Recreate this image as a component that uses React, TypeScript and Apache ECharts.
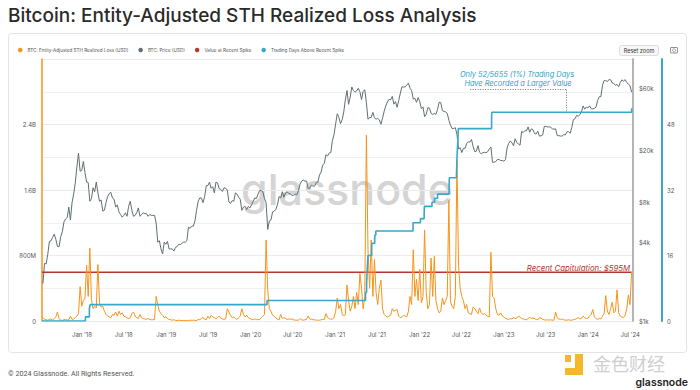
import React, { useEffect, useRef } from "react";
import * as echarts from "echarts";

// ---------- DATA ----------
const WEEK_START = "2017-07-16"; // weekly samples
const X_MIN = "2017-07-12";
const X_MAX = "2024-07-13";

// BTC price (USD), weekly
const priceUsd = [
  1930, 2750, 2730, 3230, 4060, 4090, 4350, 4600, 4200, 3700, 3700, 4400, 4800, 5700, 6000, 6150, 7400, 5900, 8000, 9300, 11300, 15000, 19100, 13900, 14100,
  16500, 13600, 11500, 11400, 8200, 8600, 10400, 9700, 11500, 9500, 8200, 8400, 6900, 7000, 8000, 8900, 9400, 9600, 8700, 8500, 7400, 7700, 6800, 6500, 6200, 6400, 6700, 6300, 7500, 8200, 7000, 6300, 6400, 6700, 7300, 6300, 6500, 6700, 6600, 6600, 6300, 6500, 6400, 6400, 6400, 5600, 4000, 4100, 3550, 3250, 4000, 3850,
  4050, 3550, 3550, 3550, 3420, 3650, 3700, 3850, 3830, 3920, 4000, 3990, 4100, 5200, 5100, 5300, 5300, 5800, 7000, 8200, 8700, 8700, 8000, 8900, 10800, 10800, 11500, 10300, 10600, 9500, 11500, 11300, 10200, 10100, 9750, 10400, 10300, 10000, 8100, 7900, 8300, 8200, 9500, 9300, 8800, 8500, 7000, 7400, 7500, 7100, 7500, 7300,
  7700, 8200, 8700, 8600, 9300, 9900, 9900, 9700, 8600, 8000, 5000, 5800, 5900, 6800, 6900, 7100, 7700, 8900, 8700, 9700, 8800, 9500, 9700, 9400, 9300, 9100, 9100, 9300, 9200, 9900, 11100, 11700, 11900, 11700, 11700, 10300, 10300, 10900, 10700, 10700, 11400, 11500, 13000, 13700, 15500, 16000, 18600, 18200, 19100, 19300, 23900, 26500,
  32000, 38200, 35800, 32100, 34300, 39300, 48700, 57500, 45100, 51200, 61200, 57400, 55800, 57100, 59800, 56200, 49000, 56600, 58300, 46400, 34700, 35700, 35800, 39100, 35600, 34700, 35300, 34300, 31800, 35400, 39900, 43800, 47000, 49300, 48800, 51800, 45200, 47300, 42800, 48200, 54900, 61500, 61000, 61300, 63300, 65500, 59700, 57300, 49400, 50100, 46700, 50800,
  47300, 41800, 43100, 36300, 37900, 42400, 42200, 38400, 37700, 38400, 37800, 41200, 46800, 46400, 40400, 39700, 39500, 38500, 34100, 31300, 29400, 29500, 29900, 26600, 20600, 21000, 19300, 20800, 20800, 22600, 23300, 23200, 24300, 21500, 19600, 19800, 21800, 19400, 18900, 19300, 19400, 19200, 19600, 20600, 21300, 16300, 16300, 16500, 17100, 17100, 16800, 16800,
  16600, 17100, 20900, 22700, 23700, 22900, 21800, 24600, 23100, 22400, 22000, 28000, 27500, 28400, 28300, 30300, 27600, 29300, 28900, 26900, 26800, 28100, 25800, 25900, 26300, 30500, 30600, 30300, 30300, 30100, 29300, 29100, 29300, 26000, 26000, 25800, 25800, 26500, 26300, 27800, 27900, 27100, 30000, 34500, 35000, 37100, 36600, 37500, 39400, 43800, 41400, 43000, 42300,
  43900, 41700, 41600, 42000, 43000, 48300, 51600, 51700, 63100, 68400, 68400, 67200, 69700, 69300, 65700, 64900, 63100, 63900, 61500, 66300, 69300, 67700, 69600, 66200, 64300, 62700, 55800,
];

// Entity-adjusted STH realized loss (USD millions), weekly
const lossUsdM = [
  40, 20, 15, 10, 20, 25, 10, 30, 50, 110, 30, 10, 8, 15, 20, 10, 15, 60, 20, 25, 40, 60, 90, 420, 180,
  250, 280, 680, 300, 890, 260, 150, 180, 160, 690, 220, 170, 180, 120, 80, 60, 50, 40, 80, 70, 110, 60, 120, 80, 100, 60, 50, 40, 30, 40, 90, 110, 60, 40, 30, 80, 40, 30, 25, 20, 30, 20, 15, 15, 20, 300, 200, 120, 90, 70, 40, 50,
  30, 20, 15, 10, 15, 8, 5, 10, 5, 5, 5, 5, 5, 5, 10, 8, 10, 8, 5, 20, 15, 30, 45, 20, 15, 60, 30, 70, 50, 40, 30, 40, 60, 35, 25, 20, 25, 150, 110, 70, 40, 50, 30, 20, 40, 60, 150, 80, 50, 70, 40, 30,
  20, 15, 25, 20, 15, 20, 40, 60, 80, 990, 380, 150, 120, 70, 60, 40, 20, 15, 80, 30, 40, 30, 20, 25, 20, 25, 15, 10, 10, 10, 30, 15, 10, 15, 20, 60, 25, 20, 15, 15, 10, 10, 10, 15, 20, 20, 90, 40, 30, 20, 25, 40,
  120, 280, 150, 200, 90, 60, 80, 440, 250, 120, 180, 300, 150, 350, 200, 580, 400, 150, 300, 2270, 870, 400, 990, 300, 750, 350, 200, 400, 500, 150, 80, 60, 50, 60, 70, 150, 120, 130, 140, 60, 40, 50, 70, 60, 50, 120, 300, 200, 870, 300, 510, 250,
  630, 220, 300, 1110, 350, 150, 200, 770, 300, 790, 250, 150, 100, 120, 280, 200, 250, 300, 1470, 240, 180, 150, 300, 1960, 670, 400, 300, 250, 150, 200, 100, 90, 80, 170, 150, 120, 90, 160, 100, 80, 90, 70, 60, 50, 840, 300, 280, 150, 80, 70, 100, 60,
  50, 30, 25, 20, 30, 25, 40, 30, 35, 60, 50, 30, 25, 20, 15, 30, 45, 30, 35, 30, 20, 15, 40, 35, 20, 15, 10, 15, 10, 15, 10, 10, 110, 40, 25, 20, 25, 15, 10, 10, 15, 10, 10, 15, 20, 30, 40, 25, 30, 60, 40, 30, 35,
  60, 80, 140, 50, 30, 20, 30, 25, 60, 90, 310, 120, 80, 150, 230, 100, 120, 380, 100, 60, 50, 40, 70, 150, 320, 200, 595,
];

// Value at recent spike (USD millions)
const recentSpikeM = 595;
const recentSpikeDates = ["2017-07-12", "2024-07-07"];

// Trading days above recent spike (cumulative count, step changes)
const daysAboveDates = [
  "2017-07-12", "2018-01-16", "2018-02-02", "2018-02-05", "2020-03-12", "2021-05-12", "2021-05-13", "2021-05-17", "2021-05-19", "2021-05-21", "2021-05-23",
  "2021-06-08", "2021-06-09", "2021-06-21", "2021-06-22", "2021-06-26", "2021-12-04", "2022-01-05", "2022-01-21", "2022-01-22", "2022-02-24", "2022-03-07",
  "2022-03-20", "2022-05-09", "2022-05-10", "2022-06-10", "2022-06-13", "2022-06-16", "2022-06-18", "2022-11-09", "2022-11-10", "2024-07-07",
];
const daysAboveValues = [0, 1, 3, 4, 5, 6, 7, 9, 12, 14, 16, 18, 19, 20, 21, 22, 24, 25, 26, 28, 29, 30, 31, 33, 35, 36, 41, 44, 47, 50, 51, 52];

// Axis ticks
const xTickDates = ["2018-01-01", "2018-07-01", "2019-01-01", "2019-07-01", "2020-01-01", "2020-07-01", "2021-01-01", "2021-07-01", "2022-01-01", "2022-07-01", "2023-01-01", "2023-07-01", "2024-01-01", "2024-07-01"];
const xTickLabels = ["Jan '18", "Jul '18", "Jan '19", "Jul '19", "Jan '20", "Jul '20", "Jan '21", "Jul '21", "Jan '22", "Jul '22", "Jan '23", "Jul '23", "Jan '24", "Jul '24"];
const lossTickValuesM = [0, 800, 1600, 2400];
const lossTickLabels = ["0", "800M", "1.6B", "2.4B"];
const priceTickValues = [1000, 4000, 8000, 20000, 60000];
const priceTickLabels = ["$1k", "$4k", "$8k", "$20k", "$60k"];
const daysTickValues = [0, 16, 32, 48];

// Annotation (callout) anchor in data space (teal axis)
const calloutFrom = "2022-08-08";
const calloutTo = "2023-09-30";
const calloutLevel = 56.5;
const calloutTarget = 51;

// ---------- HELPERS ----------
const DAY = 86400000;
const toTime = (s: string) => Date.parse(s + "T00:00:00Z");
const weekTime = (i: number) => toTime(WEEK_START) + i * 7 * DAY;

const ORANGE = "#f7931a";
const GRAY = "#5f6f73";
const RED = "#b5372e";
const TEAL = "#38a7c9";
const FONT = "Inter, 'Noto Sans', sans-serif";

export default function App() {
  const ref = useRef<HTMLDivElement>(null);

  useEffect(() => {
    const chart = echarts.init(ref.current!, null, { renderer: "svg" });

    const xTickTimes = xTickDates.map(toTime);
    const findLabel = (v: number) => {
      const idx = xTickTimes.findIndex((t) => Math.abs(t - v) < DAY / 2);
      return idx >= 0 ? xTickLabels[idx] : "";
    };

    const lossLabelMap = new Map<number, string>();
    lossTickValuesM.forEach((v, i) => lossLabelMap.set(v, lossTickLabels[i]));

    const priceLogTicks = priceTickValues.map((v) => Math.log10(v));

    const lossData = lossUsdM.map((v, i) => [weekTime(i), v]);
    const priceData = priceUsd.map((v, i) => [weekTime(i), Math.log10(v)]);
    const redData = recentSpikeDates.map((d) => [toTime(d), recentSpikeM]);
    const tealData = daysAboveDates.map((d, i) => [toTime(d), daysAboveValues[i]]);

    const option: any = {
      animation: false,
      backgroundColor: "#ffffff",
      textStyle: { fontFamily: FONT },
      legend: {
        left: 18,
        top: 47.5,
        padding: 0,
        icon: "circle",
        itemWidth: 4.5,
        itemHeight: 4.5,
        itemGap: 10,
        textStyle: { fontSize: 4.6, color: "#555", fontFamily: FONT },
        data: [
          "BTC: Entity-Adjusted STH Realized Loss (USD)",
          "BTC: Price (USD)",
          "Value at Recent Spike",
          "Trading Days Above Recent Spike",
        ],
      },
      grid: { left: 42, right: 67, top: 59, bottom: 69, containLabel: false },
      xAxis: {
        type: "value",
        min: toTime(X_MIN),
        max: toTime(X_MAX),
        axisLine: { show: false },
        axisTick: { show: false, customValues: xTickTimes },
        splitLine: { show: false },
        axisLabel: {
          customValues: xTickTimes,
          formatter: (v: number) => findLabel(v),
          fontSize: 6,
          color: "#555",
          margin: 10,
          fontFamily: FONT,
        },
      },
      yAxis: [
        {
          type: "value",
          position: "left",
          min: 0,
          max: 3200,
          interval: 800,
          axisLine: { show: true, lineStyle: { color: ORANGE, width: 1.5 } },
          axisTick: { show: false },
          axisLabel: {
            showMaxLabel: false,
            formatter: (v: number) => lossLabelMap.get(v) ?? "",
            fontSize: 6,
            color: "#555",
            margin: 6,
            fontFamily: FONT,
          },
          splitLine: { show: true, lineStyle: { color: "#ebebeb", width: 1 } },
          minorTick: { show: false, splitNumber: 2 },
          minorSplitLine: { show: true, lineStyle: { color: "#f1f1f1", width: 1 } },
        },
        {
          type: "value",
          position: "right",
          min: 3,
          max: 5,
          axisLine: { show: true, lineStyle: { color: "#b5b5b5", width: 2 } },
          axisTick: { show: false, customValues: priceLogTicks },
          axisLabel: {
            customValues: priceLogTicks,
            formatter: (v: number) => {
              const idx = priceLogTicks.findIndex((p) => Math.abs(p - v) < 1e-6);
              return idx >= 0 ? priceTickLabels[idx] : "";
            },
            fontSize: 6,
            color: "#555",
            margin: 6,
            fontFamily: FONT,
          },
          splitLine: { show: false },
        },
        {
          type: "value",
          position: "right",
          offset: 29,
          min: 0,
          max: 64,
          interval: 16,
          axisLine: { show: true, lineStyle: { color: TEAL, width: 2 } },
          axisTick: { show: false },
          axisLabel: {
            showMaxLabel: false,
            formatter: (v: number) => (daysTickValues.includes(v) ? String(v) : ""),
            fontSize: 6,
            color: "#555",
            margin: 5,
            fontFamily: FONT,
          },
          splitLine: { show: false },
        },
      ],
      series: [
        {
          name: "BTC: Entity-Adjusted STH Realized Loss (USD)",
          type: "line",
          yAxisIndex: 0,
          data: lossData,
          showSymbol: false,
          symbol: "circle",
          itemStyle: { color: ORANGE },
          lineStyle: { color: ORANGE, width: 1 },
          z: 4,
        },
        {
          name: "BTC: Price (USD)",
          type: "line",
          yAxisIndex: 1,
          data: priceData,
          showSymbol: false,
          symbol: "circle",
          itemStyle: { color: GRAY },
          lineStyle: { color: GRAY, width: 1 },
          z: 3,
        },
        {
          name: "Value at Recent Spike",
          type: "line",
          yAxisIndex: 0,
          data: redData,
          showSymbol: false,
          symbol: "circle",
          itemStyle: { color: RED },
          lineStyle: { color: RED, width: 1.5 },
          z: 3,
        },
        {
          name: "Trading Days Above Recent Spike",
          type: "line",
          yAxisIndex: 2,
          step: "end",
          data: tealData,
          showSymbol: false,
          symbol: "circle",
          itemStyle: { color: TEAL },
          lineStyle: { color: TEAL, width: 1.6 },
          z: 5,
          markLine: {
            silent: true,
            symbol: ["none", "none"],
            label: { show: false },
            lineStyle: { color: "#555", type: [1, 1.5], width: 0.8 },
            data: [
              [
                { coord: [toTime(calloutFrom), calloutLevel] },
                { coord: [toTime(calloutTo), calloutLevel] },
              ],
              [
                { coord: [toTime(calloutTo), calloutLevel] },
                { coord: [toTime(calloutTo), calloutTarget] },
              ],
            ],
          },
        },
      ],
      graphic: [
        {
          type: "rect",
          z: -10,
          silent: true,
          shape: { x: 8.5, y: 33.5, width: 678, height: 319, r: 3 },
          style: { fill: "none", stroke: "#e4e4e4", lineWidth: 1 },
        },
        {
          type: "text",
          z: 0,
          silent: true,
          style: {
            text: "glassnode",
            x: 347,
            y: 189,
            align: "center",
            verticalAlign: "middle",
            fontSize: 43,
            fontFamily: "Inter",
            fontWeight: 500,
            fill: "#d4d4d4",
          },
        },
        {
          type: "text",
          silent: true,
          style: {
            text: "Bitcoin: Entity-Adjusted STH Realized Loss Analysis",
            x: 8,
            y: 15,
            verticalAlign: "middle",
            fontSize: 19,
            fontFamily: "Inter",
            fontWeight: 500,
            fill: "#2a2a2a",
          },
        },
        {
          type: "text",
          z: 10,
          silent: true,
          style: {
            text: "Only 52/5655 (1%) Trading Days",
            x: 517,
            y: 74,
            align: "center",
            verticalAlign: "middle",
            fontSize: 7.4,
            fontStyle: "italic",
            fontFamily: "Inter",
            fill: "#2ca2c7",
          },
        },
        {
          type: "text",
          z: 10,
          silent: true,
          style: {
            text: "Have Recorded a Larger Value",
            x: 518,
            y: 83,
            align: "center",
            verticalAlign: "middle",
            fontSize: 7.4,
            fontStyle: "italic",
            fontFamily: "Inter",
            fill: "#2ca2c7",
          },
        },
        {
          type: "text",
          z: 10,
          silent: true,
          style: {
            text: "Recent Capitulation: $595M",
            x: 630,
            y: 268,
            align: "right",
            verticalAlign: "middle",
            fontSize: 7.8,
            fontStyle: "italic",
            fontFamily: "Inter",
            fill: RED,
          },
        },
        {
          type: "rect",
          silent: true,
          shape: { x: 619.5, y: 45.5, width: 39, height: 10, r: 2 },
          style: { fill: "#f7f7f7", stroke: "#d6d6d6", lineWidth: 0.8 },
        },
        {
          type: "text",
          silent: true,
          style: {
            text: "Reset zoom",
            x: 639,
            y: 50.7,
            align: "center",
            verticalAlign: "middle",
            fontSize: 5.5,
            fontFamily: "Inter",
            fill: "#333",
          },
        },
        {
          type: "rect",
          silent: true,
          shape: { x: 670.5, y: 47.5, width: 7, height: 5.5, r: 0.5 },
          style: { fill: "none", stroke: "#777", lineWidth: 0.8 },
        },
        {
          type: "circle",
          silent: true,
          shape: { cx: 674, cy: 50.3, r: 1.5 },
          style: { fill: "none", stroke: "#777", lineWidth: 0.7 },
        },
        {
          type: "text",
          silent: true,
          style: {
            text: "© 2024 Glassnode. All Rights Reserved.",
            x: 8,
            y: 373,
            verticalAlign: "middle",
            fontSize: 7.2,
            fontFamily: "Roboto",
            fill: "#555",
          },
        },
        {
          type: "rect",
          silent: true,
          shape: { x: 565, y: 355, width: 6, height: 7 },
          style: { fill: "#f5b829" },
        },
        {
          type: "polygon",
          silent: true,
          shape: { points: [[575, 354], [583, 354], [583, 375], [565, 375], [565, 368], [575, 368]] },
          style: { fill: "#f5b829" },
        },
        {
          type: "text",
          silent: true,
          style: {
            text: "金色财经",
            x: 593,
            y: 363,
            verticalAlign: "middle",
            fontSize: 18,
            fontFamily: "'Noto Sans CJK SC'",
            fill: "#cfcfcf",
          },
        },
        {
          type: "text",
          silent: true,
          style: {
            text: "glassnode",
            x: 688,
            y: 382,
            align: "right",
            verticalAlign: "middle",
            fontSize: 10.5,
            fontFamily: "Inter",
            fontWeight: 600,
            fill: "#222",
          },
        },
      ],
    };

    chart.setOption(option);
    return () => chart.dispose();
  }, []);

  return (
    <div
      ref={ref}
      style={{ position: "absolute", left: 0, top: 0, width: 700, height: 390, background: "#fff" }}
    />
  );
}
